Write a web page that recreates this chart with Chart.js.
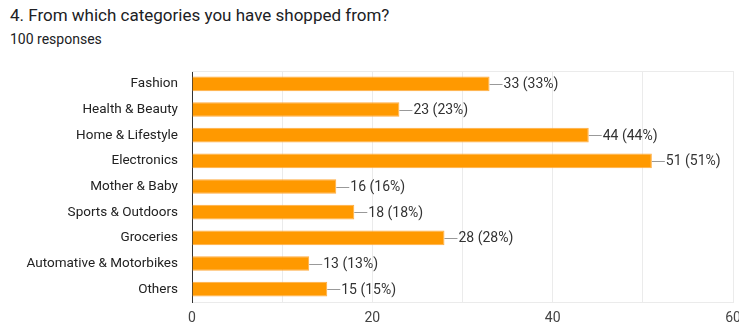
<!DOCTYPE html>
<html>
<head>
<meta charset="utf-8">
<script src="https://cdn.jsdelivr.net/npm/chart.js@4"></script>
<style>
  html, body { margin: 0; padding: 0; background: #fff; }
  #wrap { position: relative; width: 739px; height: 326px; }
  #title { position: absolute; left: 10px; top: 5px; font: 17px Roboto, sans-serif; color: #202124; }
  #sub { position: absolute; left: 10px; top: 31px; font: 14px Roboto, sans-serif; color: #202124; }
  canvas { position: absolute; left: 0; top: 0; }
</style>
</head>
<body>
<div id="wrap">
  <div id="title">4. From which categories you have shopped from?</div>
  <div id="sub">100 responses</div>
  <canvas id="chart" width="739" height="326"></canvas>
</div>
<script>
const categories = ["Fashion", "Health & Beauty", "Home & Lifestyle", "Electronics", "Mother & Baby",
    "Sports & Outdoors", "Groceries", "Automative & Motorbikes", "Others"];
const counts = [33, 23, 44, 51, 16, 18, 28, 13, 15];
const total = 100;
const tickLabels = [0, 20, 40, 60];

// value labels with a short connector, like Google Forms
const valueLabels = {
    id: "valueLabels",
    afterDatasetsDraw(chart) {
        const ctx = chart.ctx;
        const meta = chart.getDatasetMeta(0);
        ctx.save();
        ctx.font = "14px Roboto, sans-serif";
        ctx.textBaseline = "middle";
        ctx.fillStyle = "#333";
        meta.data.forEach(function (bar, i) {
            ctx.strokeStyle = "#999";
            ctx.lineWidth = 1;
            ctx.beginPath();
            ctx.moveTo(bar.x, Math.round(bar.y) + 0.5);
            ctx.lineTo(bar.x + 13, Math.round(bar.y) + 0.5);
            ctx.stroke();
            const v = counts[i];
            ctx.fillText(v + " (" + Math.round(v / total * 100) + "%)", bar.x + 14, bar.y + 1);
        });
        ctx.restore();
    }
};

const topLine = {
    id: "topLine",
    beforeDatasetsDraw(chart) {
        const a = chart.chartArea;
        const ctx = chart.ctx;
        ctx.save();
        ctx.strokeStyle = "#ebebeb";
        ctx.beginPath();
        ctx.moveTo(a.left, a.top + 0.5);
        ctx.lineTo(a.right, a.top + 0.5);
        ctx.stroke();
        ctx.restore();
    }
};

new Chart(document.getElementById("chart"), {
    type: "bar",
    data: {
        labels: categories,
        datasets: [{
            data: counts,
            backgroundColor: "#ff9900",
            borderColor: "#ffad40",
            borderWidth: 1,
            barPercentage: 0.57,
            categoryPercentage: 1
        }]
    },
    options: {
        indexAxis: "y",
        responsive: false,
        animation: false,
        layout: { padding: { top: 71, right: 6, left: 0, bottom: 0 } },
        plugins: { legend: { display: false }, tooltip: { enabled: false } },
        scales: {
            x: {
                min: 0,
                max: 60,
                ticks: {
                    stepSize: 10,
                    padding: 8,
                    color: "#444",
                    font: { family: "Roboto", size: 14 },
                    callback: function (v) { return tickLabels.includes(v) ? v : ""; }
                },
                grid: { color: "#ebebeb", drawTicks: false },
                border: { color: "#ebebeb" },
                afterFit: function (s) { s.height = 24; s.paddingRight = 0; s.paddingLeft = 0; }
            },
            y: {
                ticks: { color: "#222", padding: 14, font: { family: "Roboto", size: 13.5 } },
                grid: { display: false, drawTicks: false },
                border: { color: "#333" },
                afterFit: function (s) { s.width = 192; }
            }
        }
    },
    plugins: [valueLabels, topLine]
});
</script>
</body>
</html>
